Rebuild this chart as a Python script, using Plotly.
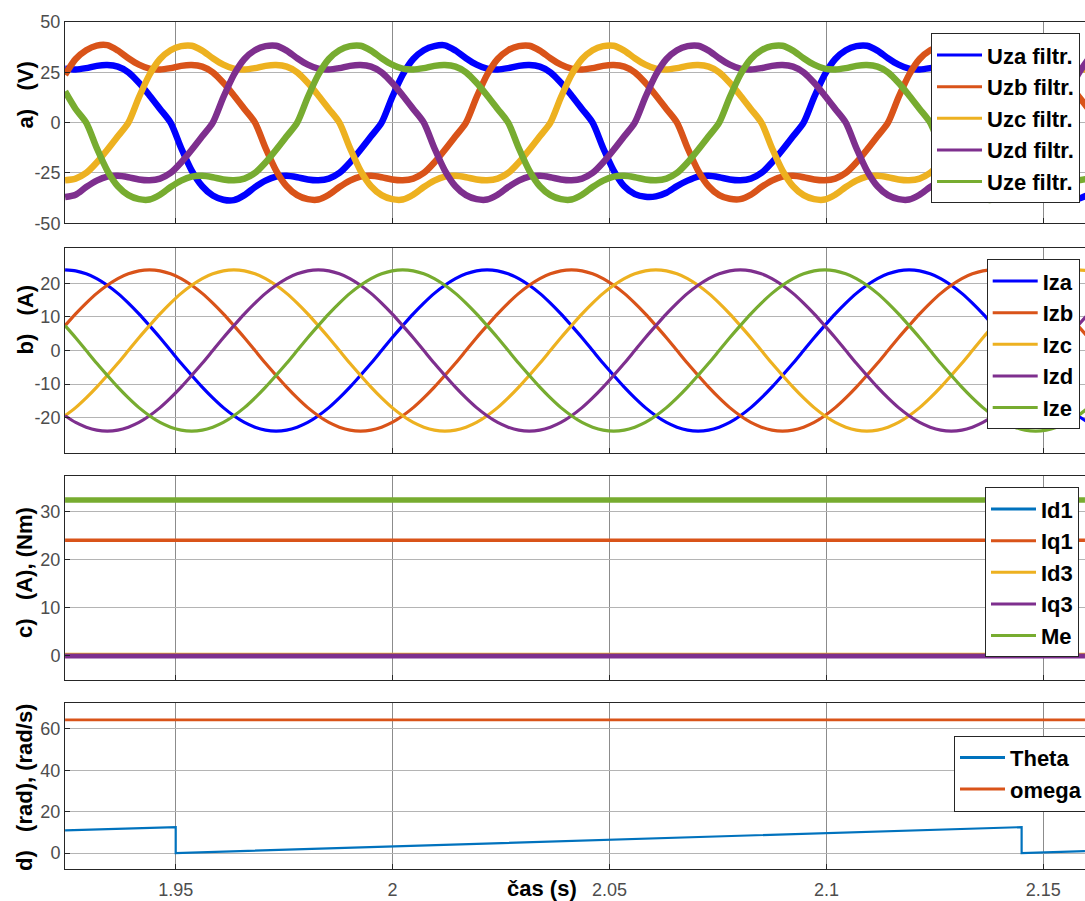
import numpy as np
import plotly.graph_objects as go

# ---------------------------------------------------------------------------
# Sample clock of the recorded waveforms (s)
T_START = 1.9245
T_STEP = 0.002432
t = T_START + T_STEP * np.arange(98)

# a) filtered phase voltages (V)
uza = [26.8, 26.4, 27.1, 28.2, 28.6, 27.8, 25.0, 19.8, 13.5, 6.8,
       0.0, -12.6, -23.8, -31.6, -36.2, -38.3, -38.5, -36.0, -32.0, -28.8, -26.8, -26.4, -27.1, -28.2, -28.6, -27.8, -25.0, -19.8, -13.5, -6.8,
       0.0, 12.6, 23.8, 31.6, 36.0, 38.0, 38.4, 35.8, 32.0, 28.8, 26.8, 26.4, 27.1, 28.2, 28.6, 27.8, 25.0, 19.8, 13.5, 6.8,
       0.0, -12.6, -23.8, -31.6, -35.5, -36.8, -36.6, -34.8, -31.5, -28.8, -26.8, -26.4, -27.1, -28.2, -28.6, -27.8, -25.0, -19.8, -13.5, -6.8,
       0.0, 12.6, 23.8, 31.6, 36.0, 38.0, 38.2, 35.8, 32.0, 28.8, 26.8, 26.4, 27.1, 28.2, 28.6, 27.8, 25.0, 19.8, 13.5, 6.8,
       0.0, -12.6, -23.8, -31.6, -36.0, -37.6, -37.8, -35.8]
uzb = [23.8, 31.6, 36.0, 38.3, 38.5, 35.8, 32.0, 28.8, 26.8, 26.4, 27.1, 28.2, 28.6, 27.8, 25.0, 19.8, 13.5, 6.8,
       0.0, -12.6, -23.8, -31.6, -36.0, -38.0, -38.2, -35.8, -32.0, -28.8, -26.8, -26.4, -27.1, -28.2, -28.6, -27.8, -25.0, -19.8, -13.5, -6.8,
       0.0, 12.6, 23.8, 31.6, 36.0, 38.0, 38.2, 35.8, 32.0, 28.8, 26.8, 26.4, 27.1, 28.2, 28.6, 27.8, 25.0, 19.8, 13.5, 6.8,
       0.0, -12.6, -23.8, -31.6, -36.0, -37.8, -38.0, -35.8, -32.0, -28.8, -26.8, -26.4, -27.1, -28.2, -28.6, -27.8, -25.0, -19.8, -13.5, -6.8,
       0.0, 12.6, 23.8, 31.6, 36.0, 38.0, 38.2, 35.8, 32.0, 28.8, 26.8, 26.4, 27.1, 28.2, 28.6, 27.8, 25.0, 19.8, 13.5, 6.8]
uzc = [-28.6, -27.8, -25.0, -19.8, -13.5, -6.8,
       0.0, 12.6, 23.8, 31.6, 36.0, 38.0, 38.2, 35.8, 32.0, 28.8, 26.8, 26.4, 27.1, 28.2, 28.6, 27.8, 25.0, 19.8, 13.5, 6.8,
       0.0, -12.6, -23.8, -31.6, -36.0, -38.0, -38.2, -35.8, -32.0, -28.8, -26.8, -26.4, -27.1, -28.2, -28.6, -27.8, -25.0, -19.8, -13.5, -6.8,
       0.0, 12.6, 23.8, 31.6, 36.0, 38.0, 38.2, 35.8, 32.0, 28.8, 26.8, 26.4, 27.1, 28.2, 28.6, 27.8, 25.0, 19.8, 13.5, 6.8,
       0.0, -12.6, -23.8, -31.6, -36.0, -38.0, -38.2, -35.8, -32.0, -28.8, -26.8, -26.4, -27.1, -28.2, -28.6, -27.8, -25.0, -19.8, -13.5, -6.8,
       0.0, 12.6, 23.8, 31.6, 36.0, 38.0, 38.2, 35.8, 32.0, 28.8, 26.8, 26.4]
uzd = [-37.0, -35.8, -32.0, -28.8, -26.8, -26.4, -27.1, -28.2, -28.6, -27.8, -25.0, -19.8, -13.5, -6.8,
       0.0, 12.6, 23.8, 31.6, 36.0, 38.0, 38.2, 35.8, 32.0, 28.8, 26.8, 26.4, 27.1, 28.2, 28.6, 27.8, 25.0, 19.8, 13.5, 6.8,
       0.0, -12.6, -23.8, -31.6, -36.0, -38.0, -38.2, -35.8, -32.0, -28.8, -26.8, -26.4, -27.1, -28.2, -28.6, -27.8, -25.0, -19.8, -13.5, -6.8,
       0.0, 12.6, 23.8, 31.6, 36.0, 38.0, 38.2, 35.8, 32.0, 28.8, 26.8, 26.4, 27.1, 28.2, 28.6, 27.8, 25.0, 19.8, 13.5, 6.8,
       0.0, -12.6, -23.8, -31.6, -36.0, -38.0, -38.2, -35.8, -32.0, -28.8, -26.8, -26.4, -27.1, -28.2, -28.6, -27.8, -25.0, -19.8, -13.5, -6.8,
       0.0, 12.6, 23.8, 31.6]
uze = [15.5, 6.8,
       0.0, -12.6, -23.8, -31.6, -36.0, -38.0, -38.2, -35.8, -32.0, -28.8, -26.8, -26.4, -27.1, -28.2, -28.6, -27.8, -25.0, -19.8, -13.5, -6.8,
       0.0, 12.6, 23.8, 31.6, 36.0, 38.0, 38.2, 35.8, 32.0, 28.8, 26.8, 26.4, 27.1, 28.2, 28.6, 27.8, 25.0, 19.8, 13.5, 6.8,
       0.0, -12.6, -23.8, -31.6, -36.0, -38.0, -38.2, -35.8, -32.0, -28.8, -26.8, -26.4, -27.1, -28.2, -28.6, -27.8, -25.0, -19.8, -13.5, -6.8,
       0.0, 12.6, 23.8, 31.6, 36.0, 38.0, 38.2, 35.8, 32.0, 28.8, 26.8, 26.4, 27.1, 28.2, 28.6, 27.8, 25.0, 19.8, 13.5, 6.8,
       0.0, -12.6, -23.8, -31.6, -36.0, -38.0, -38.2, -35.8, -32.0, -28.8, -26.8, -26.4, -27.1, -28.2, -28.6, -27.8]

# b) phase currents (A)
iza = [24.0, 23.7, 22.8, 21.4, 19.4, 17.0, 14.1, 10.9, 7.4, 3.8, 0.0, -3.8, -7.4, -10.9, -14.1, -17.0, -19.4, -21.4, -22.8, -23.7,
       -24.0, -23.7, -22.8, -21.4, -19.4, -17.0, -14.1, -10.9, -7.4, -3.8, 0.0, 3.8, 7.4, 10.9, 14.1, 17.0, 19.4, 21.4, 22.8, 23.7,
       24.0, 23.7, 22.8, 21.4, 19.4, 17.0, 14.1, 10.9, 7.4, 3.8, 0.0, -3.8, -7.4, -10.9, -14.1, -17.0, -19.4, -21.4, -22.8, -23.7,
       -24.0, -23.7, -22.8, -21.4, -19.4, -17.0, -14.1, -10.9, -7.4, -3.8, 0.0, 3.8, 7.4, 10.9, 14.1, 17.0, 19.4, 21.4, 22.8, 23.7,
       24.0, 23.7, 22.8, 21.4, 19.4, 17.0, 14.1, 10.9, 7.4, 3.8, 0.0, -3.8, -7.4, -10.9, -14.1, -17.0, -19.4, -21.4]
izb = [7.4, 10.9, 14.1, 17.0, 19.4, 21.4, 22.8, 23.7,
       24.0, 23.7, 22.8, 21.4, 19.4, 17.0, 14.1, 10.9, 7.4, 3.8, 0.0, -3.8, -7.4, -10.9, -14.1, -17.0, -19.4, -21.4, -22.8, -23.7,
       -24.0, -23.7, -22.8, -21.4, -19.4, -17.0, -14.1, -10.9, -7.4, -3.8, 0.0, 3.8, 7.4, 10.9, 14.1, 17.0, 19.4, 21.4, 22.8, 23.7,
       24.0, 23.7, 22.8, 21.4, 19.4, 17.0, 14.1, 10.9, 7.4, 3.8, 0.0, -3.8, -7.4, -10.9, -14.1, -17.0, -19.4, -21.4, -22.8, -23.7,
       -24.0, -23.7, -22.8, -21.4, -19.4, -17.0, -14.1, -10.9, -7.4, -3.8, 0.0, 3.8, 7.4, 10.9, 14.1, 17.0, 19.4, 21.4, 22.8, 23.7,
       24.0, 23.7, 22.8, 21.4, 19.4, 17.0, 14.1, 10.9, 7.4, 3.8]
izc = [-19.4, -17.0, -14.1, -10.9, -7.4, -3.8, 0.0, 3.8, 7.4, 10.9, 14.1, 17.0, 19.4, 21.4, 22.8, 23.7,
       24.0, 23.7, 22.8, 21.4, 19.4, 17.0, 14.1, 10.9, 7.4, 3.8, 0.0, -3.8, -7.4, -10.9, -14.1, -17.0, -19.4, -21.4, -22.8, -23.7,
       -24.0, -23.7, -22.8, -21.4, -19.4, -17.0, -14.1, -10.9, -7.4, -3.8, 0.0, 3.8, 7.4, 10.9, 14.1, 17.0, 19.4, 21.4, 22.8, 23.7,
       24.0, 23.7, 22.8, 21.4, 19.4, 17.0, 14.1, 10.9, 7.4, 3.8, 0.0, -3.8, -7.4, -10.9, -14.1, -17.0, -19.4, -21.4, -22.8, -23.7,
       -24.0, -23.7, -22.8, -21.4, -19.4, -17.0, -14.1, -10.9, -7.4, -3.8, 0.0, 3.8, 7.4, 10.9, 14.1, 17.0, 19.4, 21.4, 22.8, 23.7,
       24.0, 23.7]
izd = [-19.4, -21.4, -22.8, -23.7, -24.0, -23.7, -22.8, -21.4, -19.4, -17.0, -14.1, -10.9, -7.4, -3.8, 0.0, 3.8, 7.4, 10.9, 14.1, 17.0, 19.4, 21.4, 22.8, 23.7,
       24.0, 23.7, 22.8, 21.4, 19.4, 17.0, 14.1, 10.9, 7.4, 3.8, 0.0, -3.8, -7.4, -10.9, -14.1, -17.0, -19.4, -21.4, -22.8, -23.7,
       -24.0, -23.7, -22.8, -21.4, -19.4, -17.0, -14.1, -10.9, -7.4, -3.8, 0.0, 3.8, 7.4, 10.9, 14.1, 17.0, 19.4, 21.4, 22.8, 23.7,
       24.0, 23.7, 22.8, 21.4, 19.4, 17.0, 14.1, 10.9, 7.4, 3.8, 0.0, -3.8, -7.4, -10.9, -14.1, -17.0, -19.4, -21.4, -22.8, -23.7,
       -24.0, -23.7, -22.8, -21.4, -19.4, -17.0, -14.1, -10.9, -7.4, -3.8, 0.0, 3.8, 7.4, 10.9]
ize = [7.4, 3.8, 0.0, -3.8, -7.4, -10.9, -14.1, -17.0, -19.4, -21.4, -22.8, -23.7,
       -24.0, -23.7, -22.8, -21.4, -19.4, -17.0, -14.1, -10.9, -7.4, -3.8, 0.0, 3.8, 7.4, 10.9, 14.1, 17.0, 19.4, 21.4, 22.8, 23.7,
       24.0, 23.7, 22.8, 21.4, 19.4, 17.0, 14.1, 10.9, 7.4, 3.8, 0.0, -3.8, -7.4, -10.9, -14.1, -17.0, -19.4, -21.4, -22.8, -23.7,
       -24.0, -23.7, -22.8, -21.4, -19.4, -17.0, -14.1, -10.9, -7.4, -3.8, 0.0, 3.8, 7.4, 10.9, 14.1, 17.0, 19.4, 21.4, 22.8, 23.7,
       24.0, 23.7, 22.8, 21.4, 19.4, 17.0, 14.1, 10.9, 7.4, 3.8, 0.0, -3.8, -7.4, -10.9, -14.1, -17.0, -19.4, -21.4, -22.8, -23.7,
       -24.0, -23.7, -22.8, -21.4, -19.4, -17.0]

# c) dq currents (A) and electromagnetic torque (Nm)
dq_t = [1.9245, 2.1596]
id1 = [0.0, 0.0]
iq1 = [24.0, 24.0]
id3 = [0.15, 0.15]
iq3 = [-0.05, -0.05]
me = [32.4, 32.4]

# d) electrical angle (rad) and speed (rad/s)
theta_t = [1.9245, 1.95, 1.95, 2.145, 2.145, 2.1596]
theta = [10.9, 12.5, 0.0, 12.5, 0.0, 0.9]
omega_t = [1.9245, 2.1596]
omega = [64.4, 64.4]

x_ticks = [1.95, 2.0, 2.05, 2.1, 2.15]
x_ticklabels = ["1.95", "2", "2.05", "2.1", "2.15"]

# ---------------------------------------------------------------------------
W, H = 1085, 901
FONT = "Liberation Sans, Arial, Helvetica, sans-serif"
BLUE_PURE = "#0000FF"
BLUE = "#0072BD"
ORANGE = "#D95319"
YELLOW = "#EDB120"
PURPLE = "#7E2F8E"
GREEN = "#77AC30"


def px_x(x):
    return x / W


def px_y(y):
    return 1 - y / H


fig = go.Figure()

panels = [
    # (x axis, y axis, legend id)
    ("x", "y", "legend"),
    ("x2", "y2", "legend2"),
    ("x3", "y3", "legend3"),
    ("x4", "y4", "legend4"),
]


def add_series(panel, xs, ys, name, color, width, legend_width=3, shape="spline"):
    xa, ya, lg = panels[panel]
    fig.add_trace(go.Scatter(x=xs, y=ys, mode="lines", name=name, xaxis=xa, yaxis=ya,
                             line=dict(color=color, width=width, shape=shape, smoothing=0.8),
                             showlegend=False, hoverinfo="skip"))
    # thin sample line for the legend box
    fig.add_trace(go.Scatter(x=[None], y=[None], mode="lines", name=name, xaxis=xa, yaxis=ya,
                             line=dict(color=color, width=legend_width),
                             legend=lg, showlegend=True))


add_series(0, t, uza, "Uza filtr.", BLUE_PURE, 6.5)
add_series(0, t, uzb, "Uzb filtr.", ORANGE, 6.5)
add_series(0, t, uzc, "Uzc filtr.", YELLOW, 6.5)
add_series(0, t, uzd, "Uzd filtr.", PURPLE, 6.5)
add_series(0, t, uze, "Uze filtr.", GREEN, 6.5)

add_series(1, t, iza, "Iza", BLUE_PURE, 3.2)
add_series(1, t, izb, "Izb", ORANGE, 3.2)
add_series(1, t, izc, "Izc", YELLOW, 3.2)
add_series(1, t, izd, "Izd", PURPLE, 3.2)
add_series(1, t, ize, "Ize", GREEN, 3.2)

add_series(2, dq_t, id1, "Id1", BLUE, 3, shape="linear")
add_series(2, dq_t, iq1, "Iq1", ORANGE, 3.5, shape="linear")
add_series(2, dq_t, id3, "Id3", YELLOW, 4.5, shape="linear")
add_series(2, dq_t, iq3, "Iq3", PURPLE, 5, shape="linear")
add_series(2, dq_t, me, "Me", GREEN, 5.5, shape="linear")

add_series(3, theta_t, theta, "Theta", BLUE, 2.2, shape="linear")
add_series(3, omega_t, omega, "omega", ORANGE, 2.6, shape="linear")

# ---------------------------------------------------------------------------
x_dom = [px_x(65), 1.0]
y_doms = [
    [px_y(223.3), px_y(22)],
    [px_y(452.7), px_y(248.3)],
    [px_y(679.5), px_y(476)],
    [px_y(869), px_y(703.3)],
]
y_ranges = [[-50, 50], [-30.4, 30.4], [-4.96, 37.4], [-7.74, 72.4]]
y_ticks = [[-50, -25, 0, 25, 50], [-20, -10, 0, 10, 20], [0, 10, 20, 30], [0, 20, 40, 60]]
x_range = [1.92448, 2.15961]

tick_font = dict(family=FONT, size=18, color="#4d4d4d")
axis_common = dict(showline=True, linecolor="#262626", linewidth=1, zeroline=False,
                   ticks="inside", ticklen=5, tickcolor="#262626", tickfont=tick_font,
                   showgrid=True, gridwidth=1, automargin=False)

layout = dict(width=W, height=H, margin=dict(l=0, r=0, t=0, b=0, autoexpand=False),
              paper_bgcolor="white", plot_bgcolor="white", showlegend=True,
              font=dict(family=FONT))

for i in range(4):
    sx = "" if i == 0 else str(i + 1)
    layout["xaxis" + sx] = dict(axis_common, domain=x_dom, range=x_range,
                                anchor="y" + sx, tickvals=x_ticks, ticktext=x_ticklabels,
                                showticklabels=(i == 3), mirror=True, gridcolor="#8c8c8c",
                                ticklabelstandoff=4)
    layout["yaxis" + sx] = dict(axis_common, domain=y_doms[i], range=y_ranges[i],
                                anchor="x" + sx, tickvals=y_ticks[i],
                                ticktext=[str(v) for v in y_ticks[i]], gridcolor="#b4b4b4")

legend_style = dict(xanchor="left", yanchor="top", bgcolor="white", bordercolor="#262626",
                    borderwidth=1, font=dict(family=FONT, size=22, color="black", weight="bold"),
                    itemwidth=45, tracegroupgap=0)
layout["legend"] = dict(legend_style, x=px_x(931), y=px_y(33.3))
layout["legend2"] = dict(legend_style, x=px_x(986.7), y=px_y(259.3))
layout["legend3"] = dict(legend_style, x=px_x(985), y=px_y(487.3))
layout["legend4"] = dict(legend_style, x=px_x(954), y=px_y(735.7))

nb = "\u00a0"
ylabels = [
    ("a)" + nb * 3 + "(V)", 95),
    ("b)" + nb * 3 + "(A)", 320),
    ("c)" + nb * 3 + "(A), (Nm)", 572.5),
    ("d)" + nb * 3 + "(rad), (rad/s)", 787.5),
]
annotations = []
for text, yc in ylabels:
    annotations.append(dict(text="<b>" + text + "</b>", xref="paper", yref="paper",
                            x=px_x(24.5), y=px_y(yc), xanchor="center", yanchor="middle",
                            textangle=-90, showarrow=False,
                            font=dict(family=FONT, size=22, color="black")))
annotations.append(dict(text="<b>čas (s)</b>", xref="paper", yref="paper",
                        x=px_x(542), y=px_y(888), xanchor="center", yanchor="middle",
                        showarrow=False, font=dict(family=FONT, size=22, color="black")))
layout["annotations"] = annotations

fig.update_layout(**layout)
fig.write_html("out.html")
